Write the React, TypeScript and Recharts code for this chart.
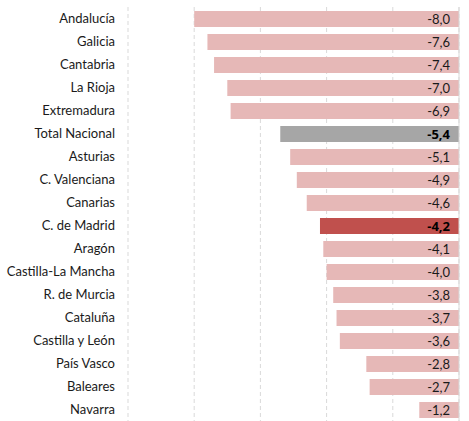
import { BarChart, Bar, XAxis, YAxis, CartesianGrid, Cell, LabelList, ReferenceLine } from "recharts"

const REGIONS = [
  "Andalucía",
  "Galicia",
  "Cantabria",
  "La Rioja",
  "Extremadura",
  "Total Nacional",
  "Asturias",
  "C. Valenciana",
  "Canarias",
  "C. de Madrid",
  "Aragón",
  "Castilla-La Mancha",
  "R. de Murcia",
  "Cataluña",
  "Castilla y León",
  "País Vasco",
  "Baleares",
  "Navarra",
]
const VALUES = [-8.0, -7.6, -7.4, -7.0, -6.9, -5.4, -5.1, -4.9, -4.6, -4.2, -4.1, -4.0, -3.8, -3.7, -3.6, -2.8, -2.7, -1.2]
const HIGHLIGHT = ["Total Nacional", "C. de Madrid"]
const X_TICKS = [-10, -8, -6, -4, -2, 0]

const FONT = "Lato, 'Open Sans', sans-serif"
const PINK = "#e6b8b7"
const GREY = "#a6a6a6"
const RED = "#c0504d"

const colorFor = (name: string) =>
  name === "Total Nacional" ? GREY : name === "C. de Madrid" ? RED : PINK

// label carries a "*" prefix when the row is highlighted (bold)
const data = REGIONS.map((region, i) => ({
  region,
  value: VALUES[i],
  label: (HIGHLIGHT.includes(region) ? "*" : "") + VALUES[i].toFixed(1).replace(".", ","),
}))

const ValueLabel = (props: any) => {
  const { x, y, width, height, value } = props
  const right = Math.max(Number(x), Number(x) + Number(width))
  const txt = String(value)
  const bold = txt.startsWith("*")
  return (
    <text
      x={right - 9}
      y={Number(y) + Number(height) / 2}
      textAnchor="end"
      dominantBaseline="central"
      fontSize={13}
      style={{ fontFamily: bold ? "'Open Sans', sans-serif" : FONT, fontWeight: bold ? 700 : 400 }}
      fill={bold ? "#000" : "#1a1a1a"}
    >
      {bold ? txt.slice(1) : txt}
    </text>
  )
}

export default function App() {
  return (
    <div style={{ position: "absolute", left: 0, top: 0 }}>
      <BarChart
        width={469}
        height={421}
        data={data}
        layout="vertical"
        margin={{ top: 7, right: 10, left: 0, bottom: 0 }}
      >
        <CartesianGrid vertical horizontal={false} stroke="#d9d9d9" strokeDasharray="4 3" />
        <XAxis type="number" domain={[-10, 0]} ticks={X_TICKS} hide />
        <YAxis
          type="category"
          dataKey="region"
          width={128}
          axisLine={false}
          tickLine={false}
          tickSize={0}
          tickMargin={13}
          interval={0}
          tick={{ fontSize: 13, fontFamily: FONT, fill: "#1a1a1a" }}
        />
        <ReferenceLine x={0} stroke="#d9d9d9" />
        <Bar dataKey="value" barSize={16} isAnimationActive={false}>
          {data.map((d) => (
            <Cell key={d.region} fill={colorFor(d.region)} />
          ))}
          <LabelList dataKey="label" content={ValueLabel} />
        </Bar>
      </BarChart>
    </div>
  )
}
